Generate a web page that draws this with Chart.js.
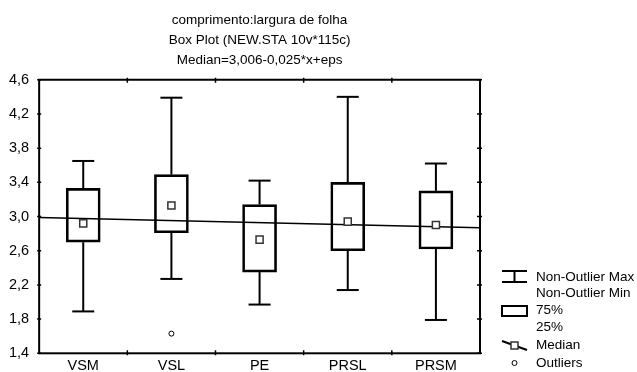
<!DOCTYPE html>
<html>
<head>
<meta charset="utf-8">
<script src="https://cdn.jsdelivr.net/npm/chart.js@4/dist/chart.umd.min.js"></script>
<style>
  body { margin: 0; background: #fff; }
</style>
</head>
<body>
<canvas id="boxChart" width="637" height="372"></canvas>
<script>
// categories and box plot values
const categories = ["VSM", "VSL", "PE", "PRSL", "PRSM"];
const whiskerMax = [3.65, 4.39, 3.42, 4.40, 3.62];
const boxTop = [3.33, 3.49, 3.14, 3.40, 3.30];
const medians = [2.92, 3.13, 2.73, 2.94, 2.90];
const boxBottom = [2.70, 2.81, 2.35, 2.60, 2.62];
const whiskerMin = [1.89, 2.27, 1.97, 2.14, 1.79];
const outliers = [null, 1.63, null, null, null];

// regression line Median=3,006-0,025*x (ends at the plot edges)
const regX = [0.5, 5.5];
const regY = [2.99, 2.87];

// y axis
const yMin = 1.4;
const yMax = 4.6;
const yStep = 0.4;

const FONT = "'Liberation Sans', Arial, sans-serif";

// whiskers + frame with little ticks + legend
const boxExtras = {
  id: "boxExtras",
  beforeDatasetsDraw(chart) {
    const ctx = chart.ctx;
    const x = chart.scales.x;
    const y = chart.scales.y;
    ctx.save();
    ctx.strokeStyle = "#000";
    ctx.lineWidth = 2;
    for (let i = 0; i < categories.length; i++) {
      const cx = x.getPixelForValue(i);
      const pairs = [[boxTop[i], whiskerMax[i]], [boxBottom[i], whiskerMin[i]]];
      pairs.forEach(([from, to]) => {
        ctx.beginPath();
        ctx.moveTo(cx, y.getPixelForValue(from));
        ctx.lineTo(cx, y.getPixelForValue(to));
        ctx.stroke();
        ctx.beginPath();
        ctx.moveTo(cx - 11, y.getPixelForValue(to));
        ctx.lineTo(cx + 11, y.getPixelForValue(to));
        ctx.stroke();
      });
    }
    ctx.restore();
  },
  afterDraw(chart) {
    const ctx = chart.ctx;
    const a = chart.chartArea;
    const x = chart.scales.x;
    const y = chart.scales.y;
    ctx.save();
    ctx.strokeStyle = "#000";
    ctx.lineWidth = 2;
    ctx.strokeRect(a.left, a.top, a.right - a.left, a.bottom - a.top);
    ctx.lineWidth = 1.5;
    // ticks on top/bottom at category boundaries
    for (let i = 1; i < categories.length; i++) {
      const bx = (x.getPixelForValue(i - 1) + x.getPixelForValue(i)) / 2;
      ctx.beginPath();
      ctx.moveTo(bx, a.top - 2); ctx.lineTo(bx, a.top + 3);
      ctx.moveTo(bx, a.bottom + 2); ctx.lineTo(bx, a.bottom - 3);
      ctx.stroke();
    }
    // ticks on left/right
    y.ticks.forEach(t => {
      const py = y.getPixelForValue(t.value);
      ctx.beginPath();
      ctx.moveTo(a.left - 2, py); ctx.lineTo(a.left + 2, py);
      ctx.moveTo(a.right - 3, py); ctx.lineTo(a.right + 2, py);
      ctx.stroke();
    });

    // legend
    const lx = 502, lw = 25, tx = 536;
    ctx.fillStyle = "#000";
    ctx.font = "13.5px " + FONT;
    ctx.textBaseline = "middle";
    ctx.textAlign = "left";
    ctx.lineWidth = 2;
    ctx.beginPath();
    ctx.moveTo(lx, 271); ctx.lineTo(lx + lw, 271);
    ctx.moveTo(lx + lw / 2, 271); ctx.lineTo(lx + lw / 2, 282);
    ctx.moveTo(lx, 282); ctx.lineTo(lx + lw, 282);
    ctx.stroke();
    ctx.fillText("Non-Outlier Max", tx, 277);
    ctx.fillText("Non-Outlier Min", tx, 293);

    ctx.strokeRect(lx, 306, lw, 10);
    ctx.fillText("75%", tx, 310);
    ctx.fillText("25%", tx, 327);

    ctx.beginPath();
    ctx.moveTo(lx, 341); ctx.lineTo(lx + lw, 350);
    ctx.stroke();
    ctx.fillStyle = "#fff";
    ctx.fillRect(lx + lw / 2 - 3.5, 342, 7, 7);
    ctx.lineWidth = 1.5;
    ctx.strokeStyle = "#333";
    ctx.strokeRect(lx + lw / 2 - 3.5, 342, 7, 7);
    ctx.fillStyle = "#000";
    ctx.fillText("Median", tx, 345);

    ctx.lineWidth = 1;
    ctx.strokeStyle = "#000";
    ctx.beginPath();
    ctx.arc(lx + lw / 2, 363, 2.5, 0, Math.PI * 2);
    ctx.stroke();
    ctx.fillText("Outliers", tx, 363);
    ctx.restore();
  }
};

const config = {
  type: "bar",
  data: {
    labels: categories,
    datasets: [
      {
        type: "line",
        label: "Median",
        data: medians,
        showLine: false,
        pointStyle: "rect",
        pointRadius: 5,
        pointBackgroundColor: "#fff",
        pointBorderColor: "#333",
        pointBorderWidth: 1.5,
        order: 0,
      },
      {
        type: "line",
        label: "Outliers",
        data: outliers,
        showLine: false,
        pointStyle: "circle",
        pointRadius: 2.5,
        pointBackgroundColor: "#fff",
        pointBorderColor: "#000",
        pointBorderWidth: 1,
        order: 1,
      },
      {
        type: "line",
        label: "Regression",
        xAxisID: "xLin",
        data: regX.map((v, i) => ({ x: v, y: regY[i] })),
        borderColor: "#000",
        borderWidth: 1.5,
        pointRadius: 0,
        order: 2,
      },
      {
        label: "75% / 25%",
        data: boxBottom.map((v, i) => [v, boxTop[i]]),
        backgroundColor: "rgba(255,255,255,0)",
        borderColor: "#000",
        borderWidth: 2,
        borderSkipped: false,
        barThickness: 34,
        grouped: false,
        order: 3,
      },
    ],
  },
  options: {
    responsive: false,
    animation: false,
    layout: { autoPadding: false, padding: { left: -1, right: 157, top: 0, bottom: -8 } },
    plugins: {
      legend: { display: false },
      tooltip: { enabled: false },
      title: {
        display: true,
        fullSize: false,
        text: [
          "comprimento:largura de folha",
          "Box Plot (NEW.STA 10v*115c)",
          "Median=3,006-0,025*x+eps",
        ],
        color: "#000",
        font: { family: FONT, size: 13.5, weight: "normal", lineHeight: 1.5 },
        padding: { top: 10, bottom: 9 },
      },
    },
    scales: {
      x: {
        type: "category",
        offset: true,
        grid: { display: false, drawTicks: false },
        border: { display: false },
        ticks: { color: "#000", font: { family: FONT, size: 14.5 }, padding: 4 },
      },
      xLin: {
        type: "linear",
        display: false,
        offset: false,
        min: 0.5,
        max: 5.5,
      },
      y: {
        min: yMin,
        max: yMax,
        grid: { display: false, drawTicks: false },
        border: { display: false },
        ticks: {
          stepSize: yStep,
          color: "#000",
          padding: 10,
          font: { family: FONT, size: 14.5 },
          callback: v => v.toFixed(1).replace(".", ","),
        },
      },
    },
  },
  plugins: [boxExtras],
};

const boxChart = new Chart(document.getElementById("boxChart"), config);
</script>
</body>
</html>
